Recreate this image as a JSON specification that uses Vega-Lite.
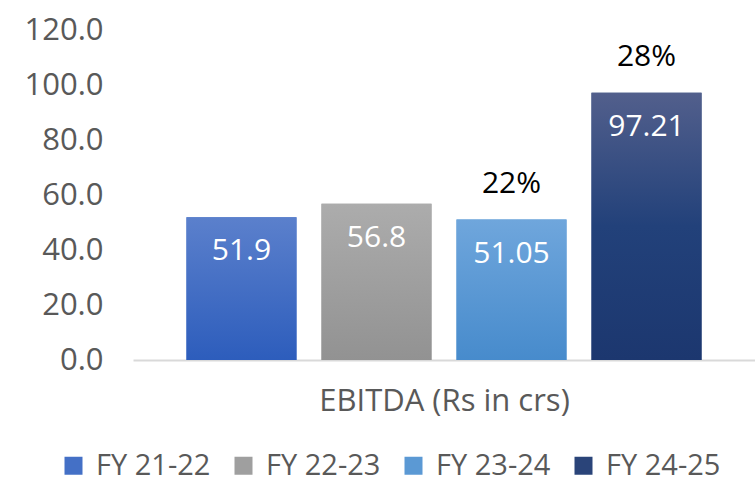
{
  "$schema": "https://vega.github.io/schema/vega-lite/v6.json",
  "autosize": {"type": "none"},
  "width": 622,
  "height": 330,
  "padding": {"left": 133, "top": 30, "right": 0, "bottom": 124},
  "background": "white",
  "config": {
    "view": {"stroke": null},
    "font": "Open Sans",
    "legend": {"orient": "none", "legendX": -74, "legendY": 421}
  },
  "data": {
    "values": [
      {"fy": "FY 21-22", "ebitda": 51.9, "label": "51.9", "growth": ""},
      {"fy": "FY 22-23", "ebitda": 56.8, "label": "56.8", "growth": ""},
      {"fy": "FY 23-24", "ebitda": 51.05, "label": "51.05", "growth": "22%"},
      {"fy": "FY 24-25", "ebitda": 97.21, "label": "97.21", "growth": "28%"}
    ]
  },
  "encoding": {
    "x": {
      "field": "fy",
      "type": "nominal",
      "sort": null,
      "scale": {"paddingInner": 0.185, "paddingOuter": 0.396},
      "axis": {
        "title": "EBITDA (Rs in crs)",
        "labels": false,
        "ticks": false,
        "domainColor": "#d9d9d9",
        "domainWidth": 2,
        "titleFont": "Open Sans",
        "titleFontSize": 31,
        "titleFontWeight": "normal",
        "titleColor": "#595959",
        "titlePadding": 26
      }
    },
    "y": {
      "field": "ebitda",
      "type": "quantitative",
      "scale": {"domain": [0, 120]},
      "axis": {
        "title": null,
        "values": [0, 20, 40, 60, 80, 100, 120],
        "format": ".1f",
        "grid": false,
        "domain": false,
        "ticks": false,
        "labelPadding": 30,
        "labelFontSize": 31,
        "labelColor": "#595959",
        "labelFont": "Open Sans"
      }
    }
  },
  "layer": [
    {
      "mark": {"type": "bar"},
      "encoding": {
        "color": {
          "field": "fy",
          "type": "nominal",
          "sort": null,
          "scale": {
            "domain": ["FY 21-22", "FY 22-23", "FY 23-24", "FY 24-25"],
            "range": ["#4470c6", "#9f9f9f", "#5b99d4", "#2a4479"]
          },
          "legend": {
            "title": null,
            "direction": "horizontal",
            "symbolType": "square",
            "symbolSize": 324,
            "symbolStrokeWidth": 0,
            "labelFontSize": 29,
            "labelColor": "#595959",
            "labelFont": "Open Sans",
            "labelOffset": 8,
            "columnPadding": 18,
            "labelLimit": 300
          }
        }
      }
    },
    {
      "mark": {"type": "bar"},
      "encoding": {
        "fill": {
          "condition": [
            {"test": "datum.fy === 'FY 21-22'", "value": {"gradient": "linear", "x1": 0, "y1": 0, "x2": 0, "y2": 1, "stops": [{"offset": 0, "color": "#5b80cc"}, {"offset": 1, "color": "#2d5dbc"}]}},
            {"test": "datum.fy === 'FY 22-23'", "value": {"gradient": "linear", "x1": 0, "y1": 0, "x2": 0, "y2": 1, "stops": [{"offset": 0, "color": "#acacac"}, {"offset": 1, "color": "#929292"}]}},
            {"test": "datum.fy === 'FY 23-24'", "value": {"gradient": "linear", "x1": 0, "y1": 0, "x2": 0, "y2": 1, "stops": [{"offset": 0, "color": "#6fa6dc"}, {"offset": 1, "color": "#478bcc"}]}}
          ],
          "value": {"gradient": "linear", "x1": 0, "y1": 0, "x2": 0, "y2": 1, "stops": [{"offset": 0, "color": "#525f8c"}, {"offset": 0.5, "color": "#22417a"}, {"offset": 1, "color": "#1c376f"}]}
        }
      }
    },
    {
      "mark": {"type": "text", "color": "white", "fontSize": 30, "baseline": "middle", "dy": 34},
      "encoding": {"text": {"field": "label"}}
    },
    {
      "mark": {"type": "text", "color": "black", "fontSize": 30, "baseline": "middle", "dy": -36},
      "encoding": {"text": {"field": "growth"}}
    }
  ]
}
